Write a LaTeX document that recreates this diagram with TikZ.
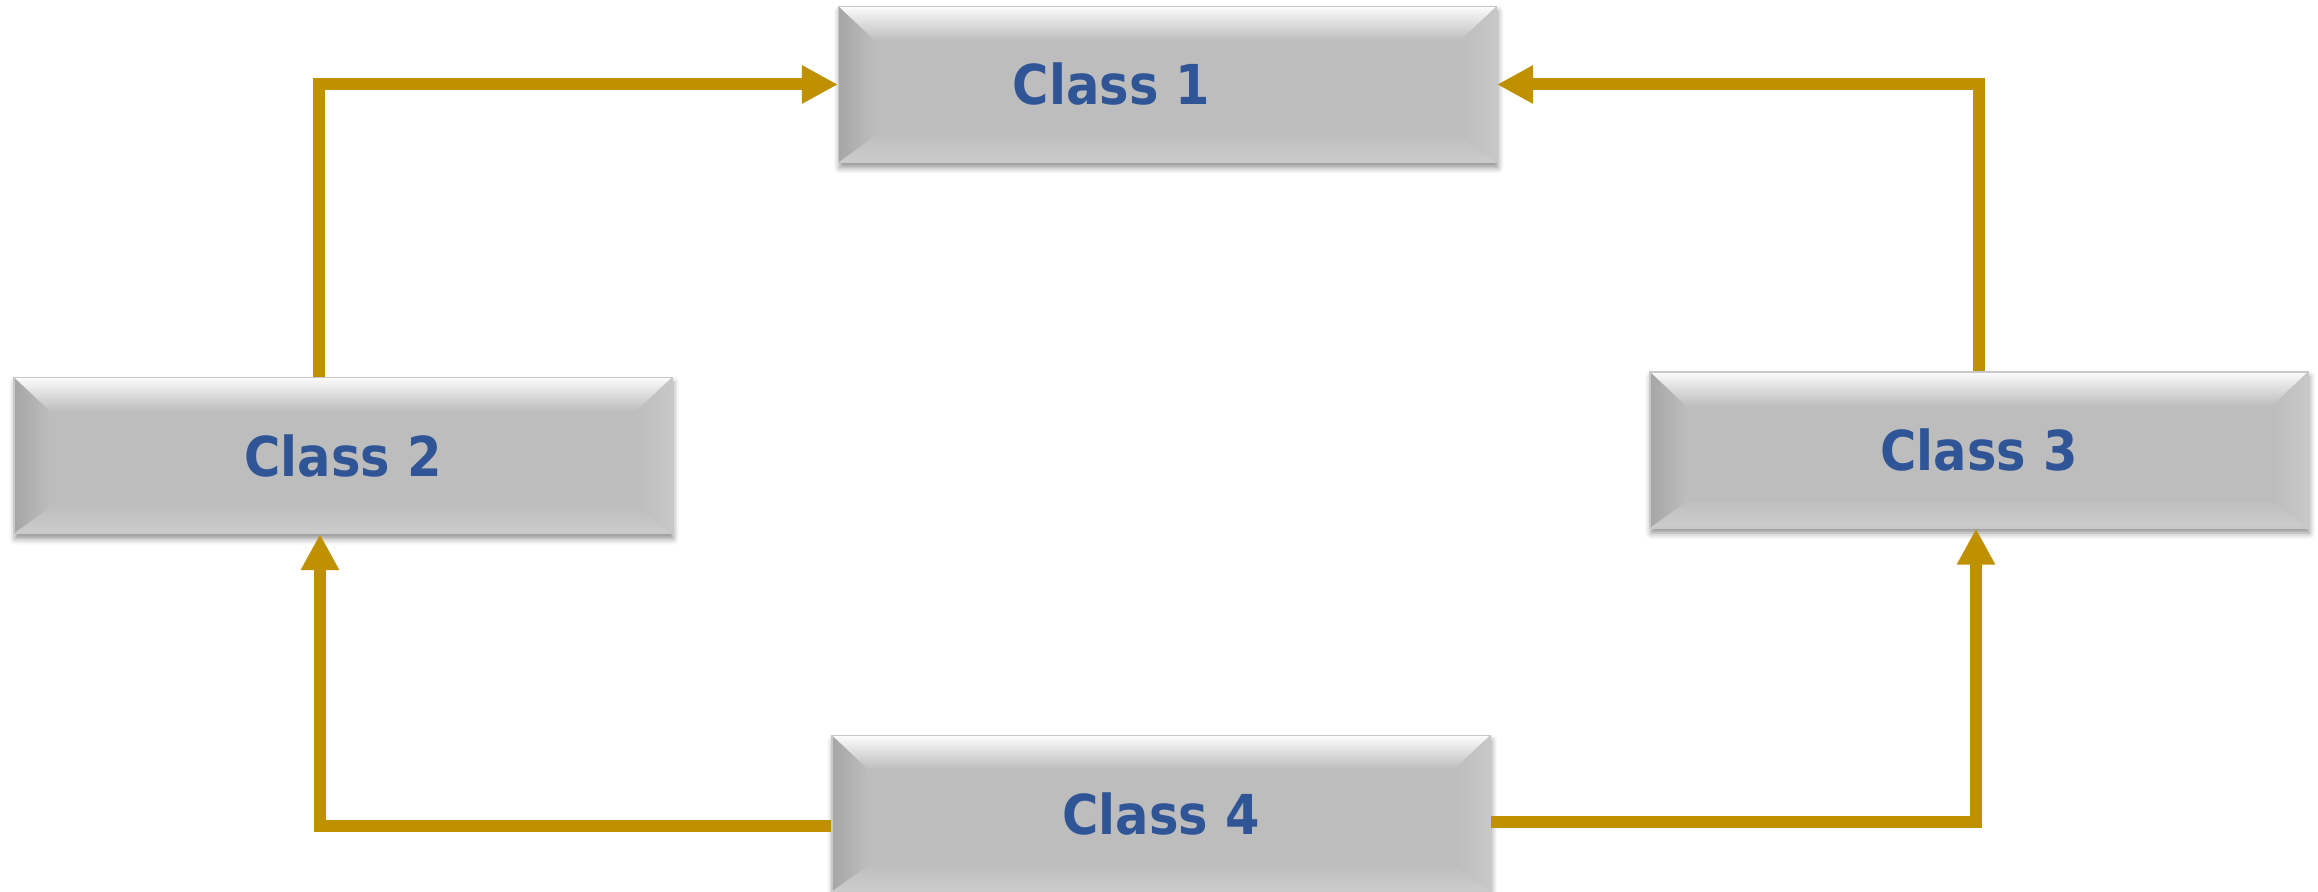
\documentclass[tikz,border=0pt]{standalone}
\usepackage{fontspec}
\newfontfamily\boxfont{DejaVu Sans Condensed}
\usetikzlibrary{arrows.meta,shadows.blur}

\definecolor{arrowgold}{RGB}{191,144,0}
\definecolor{labelblue}{RGB}{47,85,151}
\definecolor{facegray}{RGB}{189,189,189}
\definecolor{bevdark}{RGB}{166,166,166}
\definecolor{bevlight}{RGB}{204,204,204}
\definecolor{rimgray}{RGB}{200,200,200}

% bevel depths: sides, top, bottom
\def\bvs{18pt}
\def\bvt{17pt}
\def\bvb{13pt}

\tikzset{
  classbox/.style={
    rectangle, minimum width=329pt, minimum height=78pt, inner sep=0pt,
    fill=facegray, draw=rimgray, line width=0.6pt,
    font=\boxfont\bfseries\fontsize{27.5pt}{30pt}\selectfont, text=labelblue,
    blur shadow={shadow xshift=0.6pt, shadow yshift=-2.5pt,
                 shadow blur radius=3pt, shadow opacity=45},
    path picture={
      \coordinate (bnw) at (path picture bounding box.north west);
      \coordinate (bne) at (path picture bounding box.north east);
      \coordinate (bsw) at (path picture bounding box.south west);
      \coordinate (bse) at (path picture bounding box.south east);
      \coordinate (inw) at ([shift={(\bvs,-\bvt)}]bnw);
      \coordinate (ine) at ([shift={(-\bvs,-\bvt)}]bne);
      \coordinate (isw) at ([shift={(\bvs,\bvb)}]bsw);
      \coordinate (ise) at ([shift={(-\bvs,\bvb)}]bse);
      % top face: bright rim fading into the face
      \shade[top color=white!95!facegray, middle color=white!35!facegray,
             bottom color=facegray]
        (bnw) -- (bne) -- (ine) -- (inw) -- cycle;
      % left face: darker towards the outer edge
      \shade[left color=bevdark, right color=facegray]
        (bnw) -- (inw) -- (isw) -- (bsw) -- cycle;
      % right face: a touch lighter
      \shade[left color=facegray, right color=rimgray]
        (bne) -- (ine) -- (ise) -- (bse) -- cycle;
      % bottom face
      \shade[top color=facegray!85!bevlight, bottom color=bevlight]
        (bsw) -- (isw) -- (ise) -- (bse) -- cycle;
    }
  },
  flow/.style={draw=arrowgold, line width=6pt,
    -{Triangle[length=18pt,width=18pt]}}
}

\begin{document}
\begin{tikzpicture}[x=0.5pt,y=-0.5pt]
  \useasboundingbox (0,0) rectangle (2318,892);

  % the four classes
  \node[classbox] (c1) at (1167.5,84.5) {Class 1\hspace*{56pt}};
  \node[classbox] (c2) at (343,455.5)   {Class 2};
  \node[classbox] (c3) at (1979,450)    {Class 3};
  \node[classbox] (c4) at (1161,813.5)  {Class 4};

  % connectors
  \draw[flow] ([xshift=-12pt]c2.north) |- (c1.west);
  \draw[flow] (c3.north) |- (c1.east);
  \draw[flow] ([yshift=-6.25pt]c4.west) -| ([xshift=-11.5pt]c2.south);
  \draw[flow] ([yshift=-4.25pt]c4.east) -| ([xshift=-1.5pt]c3.south);
\end{tikzpicture}
\end{document}
